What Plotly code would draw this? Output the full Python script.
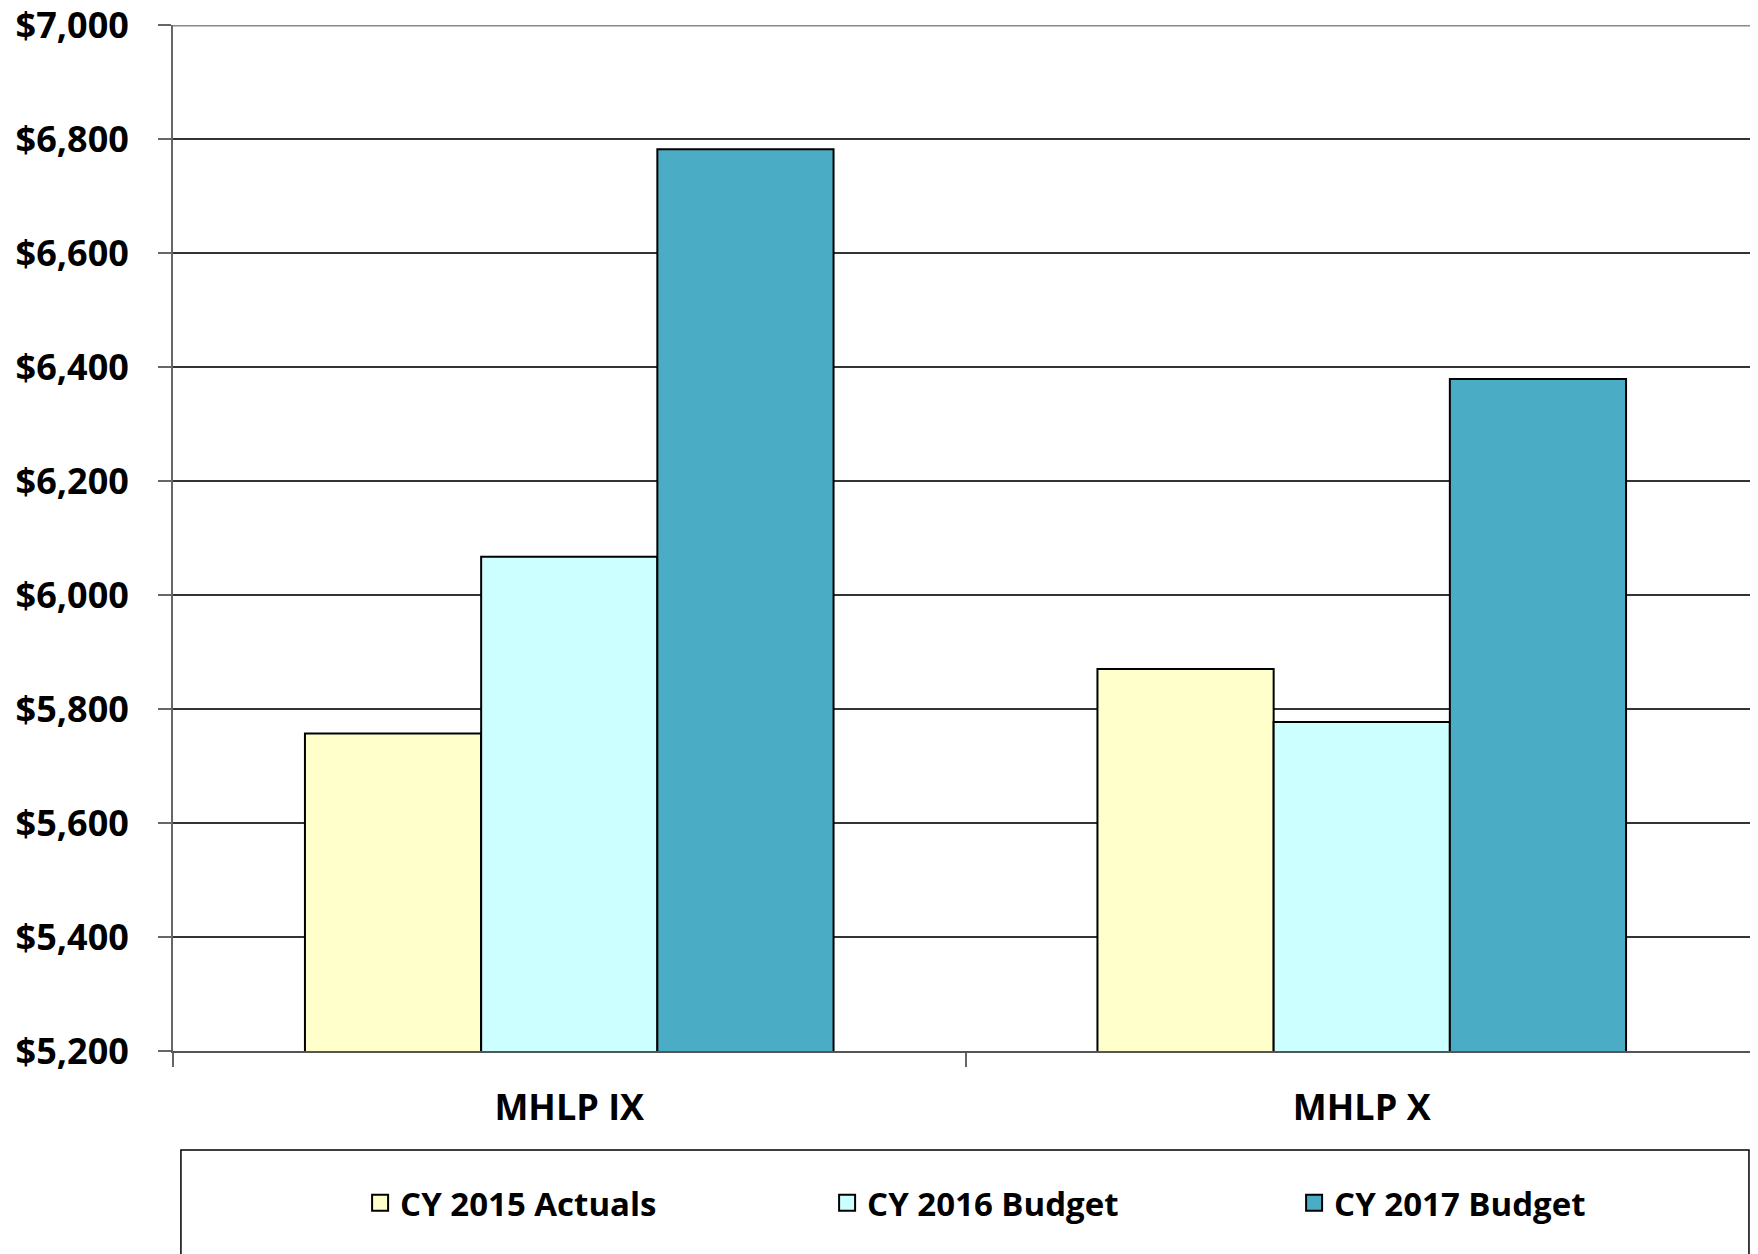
import plotly.graph_objects as go

categories = ["MHLP IX", "MHLP X"]
series_names = ["CY 2015 Actuals", "CY 2016 Budget", "CY 2017 Budget"]
cy2015_actuals = [5757, 5870]
cy2016_budget = [6067, 5777]
cy2017_budget = [6782, 6379]
colors = ["#FFFFCC", "#CCFFFF", "#4BACC6"]
tick_vals = [5200, 5400, 5600, 5800, 6000, 6200, 6400, 6600, 6800, 7000]
tick_text = ["$5,200", "$5,400", "$5,600", "$5,800", "$6,000", "$6,200", "$6,400", "$6,600", "$6,800", "$7,000"]

FONT = "'Open Sans', Lato, sans-serif"

fig = go.Figure()
for name, vals, col in zip(series_names, [cy2015_actuals, cy2016_budget, cy2017_budget], colors):
    fig.add_trace(go.Bar(
        x=categories, y=vals, name=name, showlegend=False,
        marker=dict(color=col, line=dict(color="black", width=2)),
    ))
# legend entries with larger square symbols
for name, col in zip(series_names, colors):
    fig.add_trace(go.Scatter(
        x=[None], y=[None], mode="markers", name=name, showlegend=True,
        marker=dict(symbol="square", size=16, color=col, line=dict(color="black", width=2)),
    ))

fig.update_layout(
    width=1758, height=1254,
    margin=dict(l=165, r=8, t=17, b=211, autoexpand=False),
    paper_bgcolor="white", plot_bgcolor="white",
    barmode="group", bargap=0.333, bargroupgap=0,
    font=dict(family=FONT, color="black"),
    showlegend=True,
    legend=dict(
        orientation="h", x=0.56, xanchor="center", y=-0.148, yanchor="middle",
        font=dict(family=FONT, size=33, color="black", weight="bold"),
        entrywidth=422, entrywidthmode="pixels",
        bgcolor="rgba(0,0,0,0)", borderwidth=0,
        traceorder="normal", itemsizing="trace",
    ),
    shapes=[
        dict(type="rect", xref="paper", yref="paper",
             x0=0.005, x1=0.9943, y0=-0.25, y1=-0.0965,
             line=dict(color="black", width=1.5), fillcolor="rgba(0,0,0,0)",
             layer="below"),
    ],
)

fig.update_yaxes(
    range=[5200, 7000], tickvals=tick_vals, ticktext=tick_text,
    showgrid=True, gridcolor="#333333", gridwidth=1.8,
    showline=True, linecolor="#666666", linewidth=2,
    ticks="outside", ticklen=13, tickcolor="#666666", tickwidth=1.5,
    ticklabelstandoff=22, ticklabeloverflow="allow", automargin=False,
    tickfont=dict(family=FONT, size=36, color="black", weight="bold"),
    zeroline=False,
)
fig.update_xaxes(
    showline=True, linecolor="#555555", linewidth=2,
    ticks="outside", tickson="boundaries", ticklen=14, tickcolor="#666666", tickwidth=1.5,
    tickfont=dict(family=FONT, size=36, color="black", weight="bold"),
    ticklabelstandoff=24, automargin=False,
    showgrid=False,
)
# top border line of the plot area at the $7,000 level
fig.add_hline(y=7000, line=dict(color="#888888", width=3), layer="above")

fig.write_html("out.html")
